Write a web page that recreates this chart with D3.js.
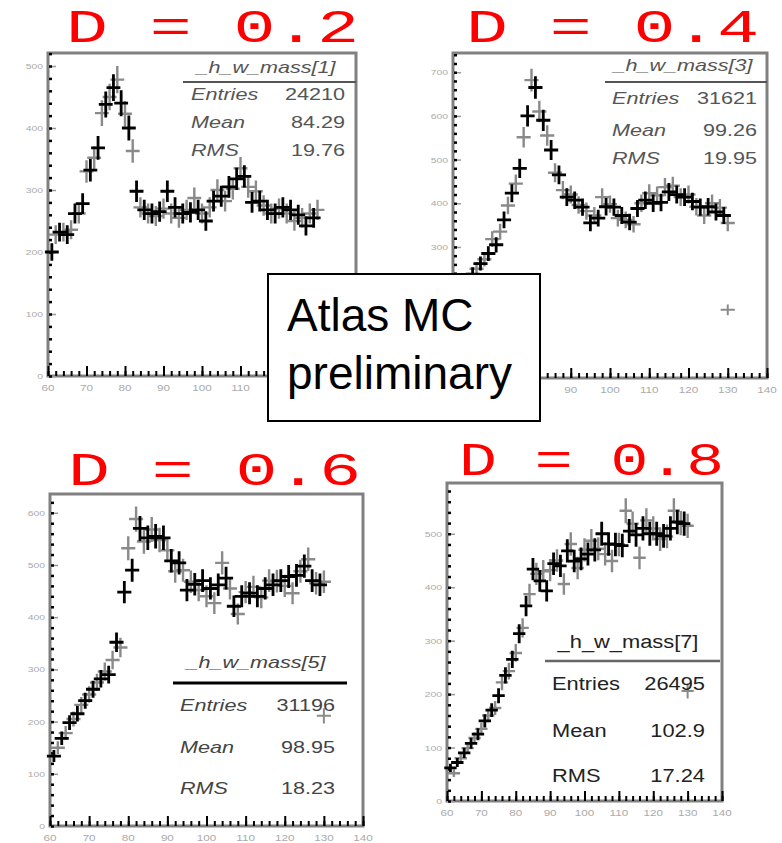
<!DOCTYPE html>
<html lang="en">
<head>
<meta charset="utf-8">
<title>W mass for different D cuts</title>
<script src="https://d3js.org/d3.v7.min.js"></script>
<style>
  body { margin: 0; background: #fff; }
  svg { display: block; font-family: "Liberation Sans", Arial, sans-serif; }
</style>
</head>
<body>
<div id="chart"></div>
<script>

// bin centres (GeV) - the crosses come in two interleaved sets, dark and light
var darkX  = [61,63,65,67,69,71,73,75,77,79,81,83,85,87,89,91,93,95,97,99,101,103,105,107,109,111,113,115,117,119,121,123,125,127,129];
var lightX = [62,64,66,68,70,72,74,76,78,80,82,84,86,88,90,92,94,96,98,100,102,104,106,108,110,112,114,116,118,120,122,124,126,128,130];

// D = 0.2
var d02Dark  = [200,232,228,262,278,332,368,438,465,440,400,298,268,262,265,298,272,262,264,268,250,282,290,305,318,322,280,282,268,262,272,268,260,242,255];
var d02Light = [228,232,236,262,330,352,424,450,478,423,363,272,262,258,270,262,255,268,287,262,272,300,282,302,335,305,298,275,262,270,262,250,255,262,268];
// D = 0.4
var d04Dark  = [190,215,238,262,285,305,362,423,480,600,665,590,522,465,414,407,391,355,366,392,391,372,357,388,407,400,402,426,420,414,404,391,392,380,372];
var d04Light = [205,226,250,272,318,335,395,445,551,682,610,555,470,430,420,396,382,372,414,398,366,362,352,400,423,418,437,440,414,420,392,372,400,390,355];
// D = 0.6
var d06Dark  = [134,168,198,215,240,262,282,290,352,448,490,570,552,555,552,508,504,452,463,470,455,462,475,421,440,446,440,455,462,470,478,480,498,470,462];
var d06Light = [150,178,205,232,252,275,296,318,342,532,588,545,568,548,528,488,490,468,452,440,427,504,455,406,448,458,438,470,469,460,446,488,511,465,468];
// D = 0.8
var d08Dark  = [62,72,90,108,125,150,170,197,235,265,313,365,434,412,393,444,440,468,449,453,462,470,500,481,480,478,505,498,510,500,500,496,510,522,519];
var d08Light = [52,80,99,118,135,160,174,222,243,277,324,387,425,430,432,450,406,481,436,470,487,472,462,449,480,543,519,455,525,510,490,495,543,520,515];

// lone markers near 130 GeV
var extraX = [[], [130], [130], [130]];
var extraV = [[], [156], [211], [206]];

var cuts = ["0.2", "0.4", "0.6", "0.8"];
var histNames = ["_h_w_mass[1]", "_h_w_mass[3]", "_h_w_mass[5]", "_h_w_mass[7]"];
var statNames = ["Entries", "Mean", "RMS"];
var entries = ["24210", "31621", "31196", "26495"];
var means = ["84.29", "99.26", "98.95", "102.9"];
var rmss = ["19.76", "19.95", "18.23", "17.24"];

var xTicks = [60, 70, 80, 90, 100, 110, 120, 130, 140];
var yTicks = [
  [0, 100, 200, 300, 400, 500],
  [0, 100, 200, 300, 400, 500, 600, 700],
  [0, 100, 200, 300, 400, 500, 600],
  [0, 100, 200, 300, 400, 500]
];

var darkSets = [d02Dark, d04Dark, d06Dark, d08Dark];
var lightSets = [d02Light, d04Light, d06Light, d08Light];

// where each pad sits on the page
var pads = [
  { left: 48, right: 356, top: 53, bottom: 376, yMax: 521,
    titleX: 66, titleY: 42, titleW: 293,
    st: { x0: 191, x1: 345, hx: 266, hy: 73, line: [183, 356, 82], lw: 2, lc: "#555",
          rows: [100, 128, 156], size: 16, sx: 1.35, italic: true, fill: "#555" } },
  { left: 453, right: 767, top: 53, bottom: 378, yMax: 744,
    titleX: 466, titleY: 42, titleW: 293,
    st: { x0: 612, x1: 757, hx: 683, hy: 71, line: [605, 767, 82], lw: 2, lc: "#555",
          rows: [104, 136, 164], size: 16, sx: 1.35, italic: true, fill: "#555" } },
  { left: 50, right: 363, top: 494, bottom: 826, yMax: 636,
    titleX: 68, titleY: 485, titleW: 293,
    st: { x0: 180, x1: 335, hx: 256, hy: 668, line: [173, 347, 683], lw: 3, lc: "#000",
          rows: [711, 753, 794], size: 16, sx: 1.35, italic: true, fill: "#444" } },
  { left: 447, right: 722, top: 483, bottom: 801, yMax: 595,
    titleX: 459, titleY: 475, titleW: 265,
    st: { x0: 552, x1: 705, hx: 628, hy: 648, line: [545, 720, 661], lw: 2.5, lc: "#666",
          rows: [690, 737, 782], size: 19, sx: 1.15, italic: false, fill: "#222" } }
];

// the "Atlas MC preliminary" box
var label = { x: 268, y: 274, w: 272, h: 147 };
function underLabel(px, py) {
  return px > label.x - 12 && px < label.x + label.w + 12 && py > label.y - 4 && py < label.y + label.h + 4;
}

var W = 782, H = 843;
var svg = d3.select("#chart").append("svg").attr("width", W).attr("height", H);

// text squeezed/stretched sideways like the original bitmap
function addText(g, x, y, str, o) {
  var t = g.append("g")
      .attr("transform", "translate(" + x + "," + y + ") scale(" + (o.sx || 1) + ",1)")
    .append("text")
      .text(str)
      .attr("font-size", o.size)
      .attr("fill", o.fill || "#000")
      .attr("text-anchor", o.anchor || "start");
  if (o.italic) t.attr("font-style", "italic");
  return t;
}

function crosses(g, x, y, xs, vs, color, width) {
  var pts = xs.map(function(c, i) { return { c: c, v: vs[i] }; });
  g.append("g").selectAll("path")
    .data(pts)
    .join("path")
      .attr("d", function(d) {
        var e = Math.sqrt(d.v);
        return "M" + x(d.c - 1.8) + "," + y(d.v) + "H" + x(d.c + 1.8) +
               "M" + x(d.c) + "," + y(d.v + e) + "V" + y(d.v - e);
      })
      .attr("fill", "none")
      .attr("stroke", color)
      .attr("stroke-width", width);
}

pads.forEach(function(p, i) {
  var g = svg.append("g");
  var x = d3.scaleLinear().domain([60, 140]).range([p.left, p.right]);
  var y = d3.scaleLinear().domain([0, p.yMax]).range([p.bottom, p.top]);

  // title  "D = 0.x"
  g.append("text")
    .attr("x", p.titleX).attr("y", p.titleY)
    .attr("font-family", "'Liberation Mono', 'Courier New', monospace")
    .attr("font-size", 46)
    .attr("fill", "#ff0000")
    .attr("textLength", p.titleW)
    .attr("lengthAdjust", "spacingAndGlyphs")
    .text("D = " + cuts[i]);

  // frame
  g.append("rect")
    .attr("x", p.left).attr("y", p.top)
    .attr("width", p.right - p.left).attr("height", p.bottom - p.top)
    .attr("fill", "none").attr("stroke", "#808080").attr("stroke-width", 3);

  // y axis: grey major ticks, black minor ticks on the frame
  var yMajor = g.append("g").attr("transform", "translate(" + p.left + ",0)")
    .call(d3.axisLeft(y).tickValues(yTicks[i]).tickSize(-8).tickFormat(""));
  yMajor.select(".domain").remove();
  yMajor.selectAll("line").attr("stroke", "#999").attr("stroke-width", 1.5);

  var yMinor = g.append("g").attr("transform", "translate(" + (p.left + 1) + ",0)")
    .call(d3.axisLeft(y).tickValues(d3.range(0, p.yMax, 20)).tickSize(-3).tickFormat(""));
  yMinor.select(".domain").remove();
  yMinor.selectAll("line").attr("stroke", "#000").attr("stroke-width", 2.5);

  // x axis ticks
  var xMinor = g.append("g").attr("transform", "translate(0," + p.bottom + ")")
    .call(d3.axisBottom(x).tickValues(d3.range(60, 141, 2)).tickSize(-5).tickFormat(""));
  xMinor.select(".domain").remove();
  xMinor.selectAll("line").attr("stroke", "#000").attr("stroke-width", 2);

  var xMajor = g.append("g").attr("transform", "translate(0," + p.bottom + ")")
    .call(d3.axisBottom(x).tickValues(xTicks).tickSize(-10).tickFormat(""));
  xMajor.select(".domain").remove();
  xMajor.selectAll("line").attr("stroke", "#000").attr("stroke-width", 2);

  // tick labels (faint, as in the scan); the ones under the label box are not visible
  yTicks[i].forEach(function(v) {
    if (underLabel(p.left - 15, y(v))) return;
    addText(g, p.left - 5, y(v) + 3, String(v), { size: 8, sx: 1.3, fill: "#aaa", anchor: "end" });
  });
  xTicks.forEach(function(v) {
    if (underLabel(x(v), p.bottom + 11)) return;
    addText(g, x(v), p.bottom + 15, String(v), { size: 9, sx: 1.3, fill: "#aaa", anchor: "middle" });
  });

  // data
  crosses(g, x, y, lightX, lightSets[i], "#8a8a8a", 2.4);
  crosses(g, x, y, extraX[i], extraV[i], "#8a8a8a", 2);
  crosses(g, x, y, darkX, darkSets[i], "#000", 2.8);

  // statistics box
  var s = p.st;
  addText(g, s.hx, s.hy, histNames[i], { size: s.size, sx: s.sx, fill: s.fill, italic: s.italic, anchor: "middle" });
  g.append("line")
    .attr("x1", s.line[0]).attr("x2", s.line[1])
    .attr("y1", s.line[2]).attr("y2", s.line[2])
    .attr("stroke", s.lc).attr("stroke-width", s.lw);
  var vals = [entries[i], means[i], rmss[i]];
  statNames.forEach(function(n, k) {
    addText(g, s.x0, s.rows[k], n, { size: s.size, sx: s.sx, fill: s.fill, italic: s.italic });
    addText(g, s.x1, s.rows[k], vals[k], { size: s.size, sx: s.sx, fill: s.fill, anchor: "end" });
  });
});

// "Atlas MC preliminary" label over the top two pads
var lab = svg.append("g");
lab.append("rect")
  .attr("x", label.x).attr("y", label.y).attr("width", label.w).attr("height", label.h)
  .attr("fill", "#fff").attr("stroke", "#000").attr("stroke-width", 2);
lab.append("text").attr("x", 287).attr("y", 331).attr("font-size", 46).text("Atlas MC");
lab.append("text").attr("x", 287).attr("y", 389).attr("font-size", 46).text("preliminary");

</script>
</body>
</html>
